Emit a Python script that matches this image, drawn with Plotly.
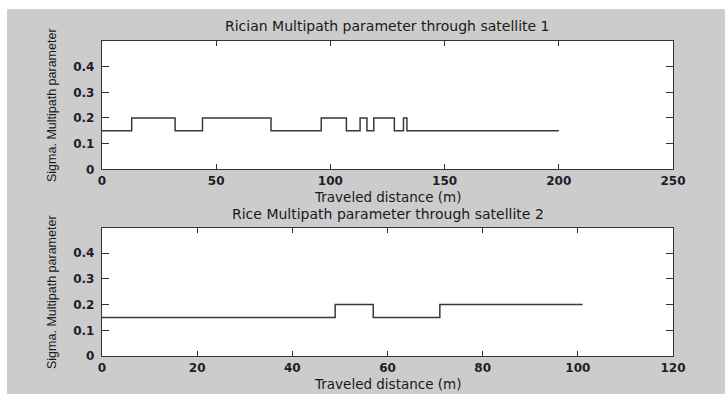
import plotly.graph_objects as go
from plotly.subplots import make_subplots

# Satellite 1: distance (m) at each change of the multipath sigma, and the level from there on
sat1_distance = [0, 13, 32, 44, 74, 96, 107, 113, 116, 119, 128, 132, 133.5, 200]
sat1_sigma = [0.15, 0.2, 0.15, 0.2, 0.15, 0.2, 0.15, 0.2, 0.15, 0.2, 0.15, 0.2, 0.15, 0.15]

# Satellite 2
sat2_distance = [0, 49, 57, 71, 101]
sat2_sigma = [0.15, 0.2, 0.15, 0.2, 0.2]

sat1_xticks = [0, 50, 100, 150, 200, 250]
sat2_xticks = [0, 20, 40, 60, 80, 100, 120]
sigma_ticks = [0, 0.1, 0.2, 0.3, 0.4]
sigma_ticklabels = ["0", "0.1", "0.2", "0.3", "0.4"]

title1 = "Rician Multipath parameter through satellite 1"
title2 = "Rice Multipath parameter through satellite 2"
xlabel = "Traveled distance (m)"
ylabel = "Sigma. Multipath parameter"

W, H = 725, 394
L, R, T, B = 102, 52, 41, 38
plot_w = W - L - R
plot_h = H - T - B


def px_x(p):
    return (p - L) / plot_w


def px_y(p):
    return (H - B - p) / plot_h


fig = make_subplots(rows=2, cols=1, vertical_spacing=0.0)

line_style = dict(color="#383838", width=1.5, shape="hv")
fig.add_trace(go.Scatter(x=sat1_distance, y=sat1_sigma, mode="lines",
                         line=line_style, showlegend=False), row=1, col=1)
fig.add_trace(go.Scatter(x=sat2_distance, y=sat2_sigma, mode="lines",
                         line=line_style, showlegend=False), row=2, col=1)

tick_font = dict(family="DejaVu Sans", size=12, color="#1e1e28", weight="bold")
axis_common = dict(showline=True, linecolor="#333333", linewidth=1.3, mirror="allticks",
                   ticks="inside", tickcolor="#333333", tickwidth=1.2,
                   showgrid=False, zeroline=False, tickfont=tick_font)

fig.update_xaxes(range=[0, 250], tickvals=sat1_xticks, ticklen=5, row=1, col=1, **axis_common)
fig.update_xaxes(range=[0, 120], tickvals=sat2_xticks, ticklen=5, row=2, col=1, **axis_common)
fig.update_yaxes(range=[0, 0.5], tickvals=sigma_ticks, ticktext=sigma_ticklabels,
                 ticklen=7, ticklabelstandoff=4, **axis_common)

fig.update_layout(
    yaxis=dict(domain=[px_y(169.3), 1.0]),
    yaxis2=dict(domain=[0.0, px_y(227.5)]),
)

title_font = dict(family="DejaVu Sans", size=14, color="#1a1a1a")
xlabel_font = dict(family="DejaVu Sans", size=13.5, color="#1a1a1a")
label_font = dict(family="Liberation Sans", size=12.5, color="#1a1a1a")
annotations = [
    dict(text=title1, x=0.5, y=px_y(26.5), font=title_font),
    dict(text=xlabel, x=0.5, y=px_y(197), font=xlabel_font),
    dict(text=title2, x=0.5, y=px_y(213.5), font=title_font),
    dict(text=xlabel, x=0.5, y=px_y(384), font=xlabel_font),
    dict(text=ylabel, x=px_x(52), y=px_y(105), textangle=-90, font=label_font),
    dict(text=ylabel, x=px_x(52), y=px_y(292), textangle=-90, font=label_font),
]
for a in annotations:
    a.update(xref="paper", yref="paper", xanchor="center", yanchor="middle", showarrow=False)

# white border along the top and left edges of the grey figure
shapes = [
    dict(type="rect", xref="paper", yref="paper", x0=px_x(-5), x1=px_x(W + 5),
         y0=px_y(9), y1=px_y(-5), fillcolor="white", line_width=0, layer="below"),
    dict(type="rect", xref="paper", yref="paper", x0=px_x(-5), x1=px_x(7),
         y0=px_y(H + 5), y1=px_y(-5), fillcolor="white", line_width=0, layer="below"),
]

fig.update_layout(
    width=W, height=H,
    margin=dict(l=L, r=R, t=T, b=B, pad=0),
    paper_bgcolor="#cccccc",
    plot_bgcolor="white",
    annotations=annotations,
    shapes=shapes,
    showlegend=False,
)

fig.write_html("out.html")
